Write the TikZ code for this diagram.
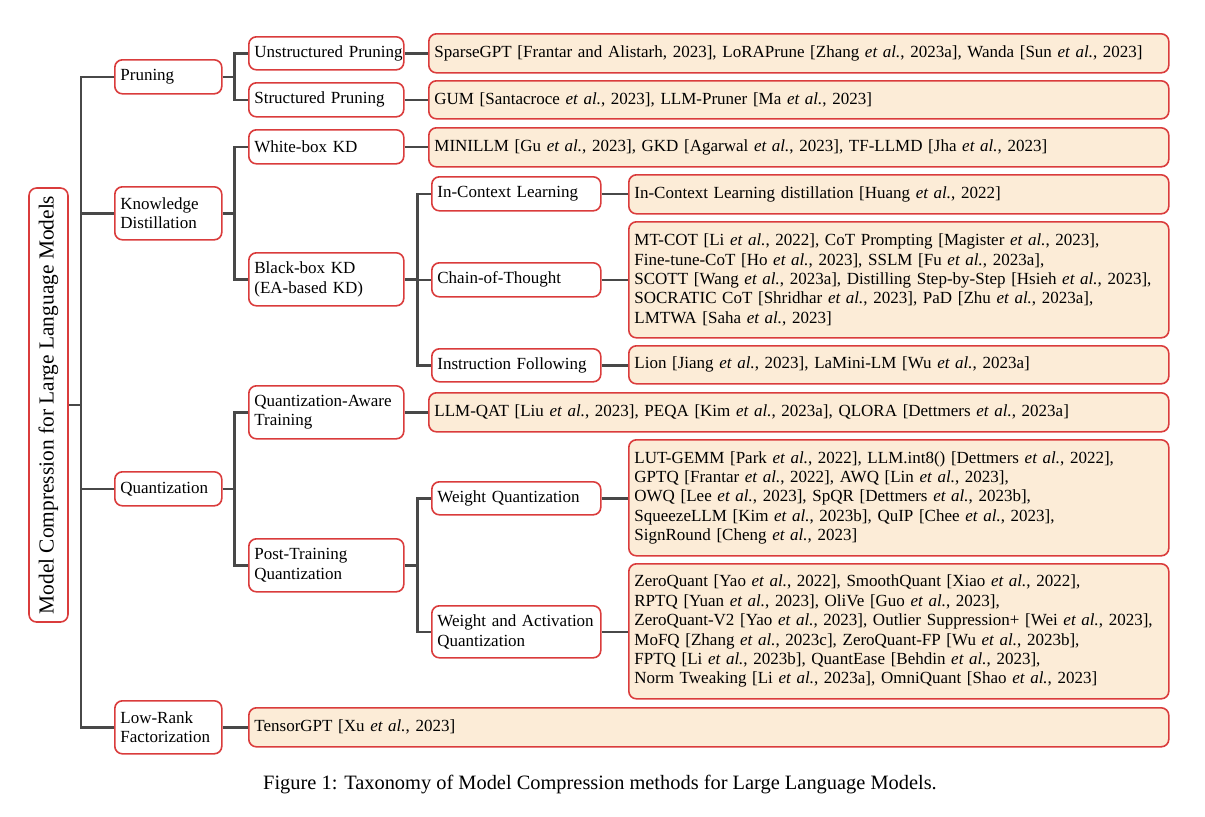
\documentclass[tikz,border=0pt]{standalone}
\usepackage{fontspec}
\setmainfont{Liberation Serif}
\definecolor{bord}{RGB}{218,60,60}
\definecolor{leaffill}{RGB}{252,236,215}
\definecolor{conncol}{RGB}{72,72,72}
\tikzset{
  base/.style={draw=bord, line width=0.8pt, rounded corners=3.8pt, inner xsep=2.8pt, inner ysep=0pt, align=left,
    font=\fontsize{8.5pt}{9.7pt}\selectfont},
  catbox/.style={base, fill=white},
  leafbox/.style={base, fill=leaffill},
  conn/.style={draw=conncol, line width=1.3pt},
}
\newcommand\mybox[7]{%
  \pgfmathsetlengthmacro\bxw{(#4-#2)*0.5pt}%
  \pgfmathsetlengthmacro\bxh{(#5-#3)*0.5pt}%
  \pgfmathsetlengthmacro\bxt{(#4-#2)*0.5pt-5.6pt}%
  \node[#6, anchor=north west, minimum width=\bxw, minimum height=\bxh, text width=\bxt] (#1) at (#2,#3) {#7};}
\newcommand\ea{\textit{et al.}}
\begin{document}
\begin{tikzpicture}[x=0.5pt, y=-0.5pt]
\useasboundingbox (0,0) rectangle (1205,816);
% root
\node[base, fill=white, rotate=90, minimum width=217pt, minimum height=19.5pt, inner xsep=0pt,
  font=\fontsize{10.7pt}{12pt}\selectfont, align=center] (root) at (48.5,405) {Model Compression for Large Language Models};
% level 1
\mybox{pr}{114}{59}{221}{93}{catbox}{Pruning}
\mybox{kd}{114}{186}{221}{239}{catbox}{Knowledge\\Distillation}
\mybox{qu}{114}{471}{221}{505}{catbox}{Quantization}
\mybox{lr}{114}{700}{221}{753}{catbox}{Low-Rank\\Factorization}
% level 2
\mybox{us}{248}{36}{403}{69}{catbox}{\mbox{Unstructured Pruning}}
\mybox{sp}{248}{82}{403}{116}{catbox}{Structured Pruning}
\mybox{wb}{248}{129}{403}{163}{catbox}{White-box KD}
\mybox{bb}{248}{252}{403}{305}{catbox}{Black-box KD\\(EA-based KD)}
\mybox{qat}{248}{385}{403}{438}{catbox}{Quantization-Aware\\Training}
\mybox{ptq}{248}{538}{403}{591}{catbox}{Post-Training\\Quantization}
% level 3
\mybox{icl}{431}{176}{600}{210}{catbox}{In-Context Learning}
\mybox{cot}{431}{262}{600}{296}{catbox}{Chain-of-Thought}
\mybox{if}{431}{348}{600}{381}{catbox}{\mbox{Instruction Following}}
\mybox{wq}{431}{481}{600}{514}{catbox}{Weight Quantization}
\mybox{waq}{431}{605}{600}{657}{catbox}{\mbox{Weight and Activation}\\Quantization}
% leaves
\mybox{usL}{428}{33}{1168}{72}{leafbox}{SparseGPT [Frantar and Alistarh, 2023], LoRAPrune [Zhang \ea, 2023a], Wanda [Sun \ea, 2023]}
\mybox{spL}{428}{80}{1168}{118}{leafbox}{GUM [Santacroce \ea, 2023], LLM-Pruner [Ma \ea, 2023]}
\mybox{wbL}{428}{127}{1168}{166}{leafbox}{MINILLM [Gu \ea, 2023], GKD [Agarwal \ea, 2023], TF-LLMD [Jha \ea, 2023]}
\mybox{iclL}{628}{174}{1168}{213}{leafbox}{In-Context Learning distillation [Huang \ea, 2022]}
\mybox{cotL}{628}{221}{1168}{337}{leafbox}{MT-COT [Li \ea, 2022], CoT Prompting [Magister \ea, 2023],\\
Fine-tune-CoT [Ho \ea, 2023], SSLM [Fu \ea, 2023a],\\
SCOTT [Wang \ea, 2023a], Distilling Step-by-Step [Hsieh \ea, 2023],\\
SOCRATIC CoT [Shridhar \ea, 2023], PaD [Zhu \ea, 2023a],\\
LMTWA [Saha \ea, 2023]}
\mybox{ifL}{628}{345}{1168}{383}{leafbox}{Lion [Jiang \ea, 2023], LaMini-LM [Wu \ea, 2023a]}
\mybox{qatL}{428}{392}{1168}{431}{leafbox}{LLM-QAT [Liu \ea, 2023], PEQA [Kim \ea, 2023a], QLORA [Dettmers \ea, 2023a]}
\mybox{wqL}{628}{439}{1168}{555}{leafbox}{LUT-GEMM [Park \ea, 2022], LLM.int8() [Dettmers \ea, 2022],\\
GPTQ [Frantar \ea, 2022], AWQ [Lin \ea, 2023],\\
OWQ [Lee \ea, 2023], SpQR [Dettmers \ea, 2023b],\\
SqueezeLLM [Kim \ea, 2023b], QuIP [Chee \ea, 2023],\\
SignRound [Cheng \ea, 2023]}
\mybox{waqL}{628}{563}{1168}{698}{leafbox}{ZeroQuant [Yao \ea, 2022], SmoothQuant [Xiao \ea, 2022],\\
RPTQ [Yuan \ea, 2023], OliVe [Guo \ea, 2023],\\
ZeroQuant-V2 [Yao \ea, 2023], Outlier Suppression+ [Wei \ea, 2023],\\
MoFQ [Zhang \ea, 2023c], ZeroQuant-FP [Wu \ea, 2023b],\\
FPTQ [Li \ea, 2023b], QuantEase [Behdin \ea, 2023],\\
Norm Tweaking [Li \ea, 2023a], OmniQuant [Shao \ea, 2023]}
\mybox{lrL}{248}{707}{1168}{746}{leafbox}{TensorGPT [Xu \ea, 2023]}
% caption
\node[font=\fontsize{10.2pt}{12pt}\selectfont, inner sep=0pt] (cap) at (600,785) {Figure 1: Taxonomy of Model Compression methods for Large Language Models.};
% connectors
\draw[conn] (root.south) -- ++(12,0) coordinate (t0);
\foreach \n in {pr,kd,qu,lr} \draw[conn] (t0) |- (\n.west);
\draw[conn] (pr.east) -- ++(12,0) coordinate (t1);
\foreach \n in {us,sp} \draw[conn] (t1) |- (\n.west);
\draw[conn] (kd.east) -- ++(12,0) coordinate (t2);
\foreach \n in {wb,bb} \draw[conn] (t2) |- (\n.west);
\draw[conn] (qu.east) -- ++(12,0) coordinate (t3);
\foreach \n in {qat,ptq} \draw[conn] (t3) |- (\n.west);
\draw[conn] (bb.east) -- ++(13,0) coordinate (t4);
\foreach \n in {icl,cot,if} \draw[conn] (t4) |- (\n.west);
\draw[conn] (ptq.east) -- ++(13,0) coordinate (t5);
\foreach \n in {wq,waq} \draw[conn] (t5) |- (\n.west);
\foreach \a/\b in {us/usL,sp/spL,wb/wbL,icl/iclL,cot/cotL,if/ifL,qat/qatL,wq/wqL,waq/waqL,lr/lrL}
  \draw[conn] (\a.east) -- (\a.east -| \b.west);
\end{tikzpicture}
\end{document}
